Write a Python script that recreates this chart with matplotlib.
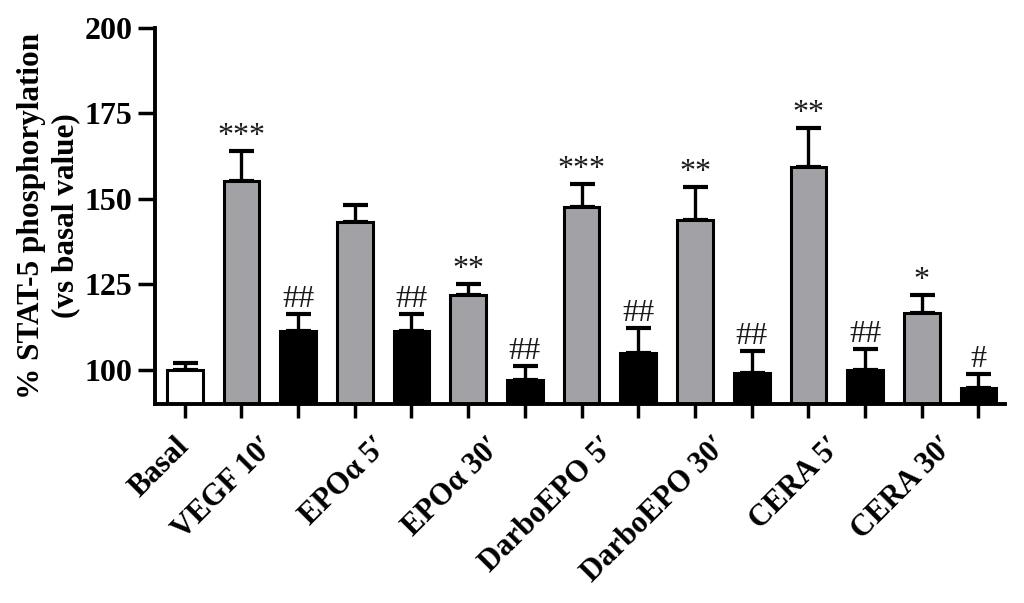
import matplotlib
matplotlib.use('Agg')
import matplotlib.pyplot as plt
import numpy as np

# bar data (% of basal)
values = [100, 155.1, 111.4, 143.1, 111.4, 121.9, 96.9, 147.6, 104.8,
          143.9, 99.2, 159.4, 99.9, 116.7, 94.6]
errors = [2.1, 8.8, 5.0, 5.0, 5.0, 3.2, 4.2, 6.6, 7.3, 9.6, 6.4, 11.4, 6.1, 5.1, 4.3]
marks = ['', '***', '##', '', '##', '**', '##', '***', '##', '**', '##', '**', '##', '*', '#']
kinds = ['basal'] + ['stim', 'inhib'] * 7

labels = ['Basal', 'VEGF 10\u2032', 'EPO\u03b1 5\u2032', 'EPO\u03b1 30\u2032',
          'DarboEPO 5\u2032', 'DarboEPO 30\u2032', 'CERA 5\u2032', 'CERA 30\u2032']
label_pos = [0, 1.5, 3.5, 5.5, 7.5, 9.5, 11.5, 13.5]

fill = {'basal': 'white', 'stim': '#a2a2a6', 'inhib': 'black'}
serif = ['Liberation Serif', 'DejaVu Serif']

fig = plt.figure(figsize=(10.24, 6.03), dpi=100)
ax = fig.add_axes([0.151, 0.33, 0.830, 0.624])

x = np.arange(len(values))
ax.bar(x, values, width=0.63, color=[fill[k] for k in kinds],
       edgecolor='black', linewidth=2.2, zorder=2)
ax.errorbar(x, values, yerr=[np.zeros(len(errors)), errors], fmt='none',
            ecolor='black', elinewidth=2.4, capsize=9, capthick=3, zorder=1)

for xi, v, e, m in zip(x, values, errors, marks):
    if m:
        ax.annotate(m, (xi, v + e), xytext=(0, 0), textcoords='offset points',
                    ha='center', va='bottom', fontsize=23, family=serif,
                    color='#1a1a1a')

ax.set_ylim(90, 200)
ax.set_xlim(-0.53, 14.46)
ax.set_yticks([100, 125, 150, 175, 200])
ax.xaxis.remove_overlapping_locs = False
ax.set_xticks(x)
ax.set_xticklabels([''] * len(x))
# labels sit slightly right of their group, as in the original
ax.set_xticks(np.array(label_pos) + 0.18, minor=True)
ax.set_xticklabels(labels, minor=True, rotation=45, ha='right',
                   fontsize=22, fontweight='bold', family=serif)

for lab in ax.get_yticklabels():
    lab.set_family(serif)
    lab.set_fontweight('bold')
    lab.set_fontsize(23)

ax.tick_params(axis='x', which='major', length=10, width=2.5)
ax.tick_params(axis='x', which='minor', length=0, pad=20)
ax.tick_params(axis='y', length=12, width=2.5, pad=4)

for side in ['top', 'right']:
    ax.spines[side].set_visible(False)
for side in ['left', 'bottom']:
    ax.spines[side].set_linewidth(2.8)

ax.set_ylabel('% STAT-5 phosphorylation\n(vs basal value)', fontsize=22.5,
              fontweight='bold', family=serif, labelpad=3, linespacing=1.25)

fig.savefig('out.png', dpi=100)
